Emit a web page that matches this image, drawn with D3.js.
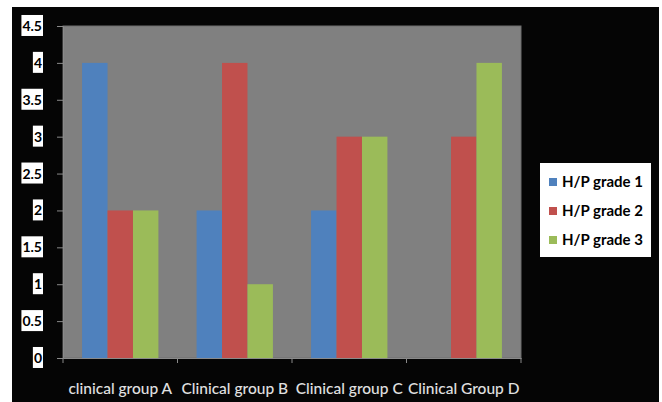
<!DOCTYPE html>
<html><head><meta charset="utf-8">
<script src="https://cdn.jsdelivr.net/npm/d3@7"></script>
<style>
html,body{margin:0;padding:0;background:#fff;}
svg{display:block;}
</style></head>
<body>
<svg id="chart" width="662" height="402"></svg>
<script>
const categories = ["clinical group A", "Clinical group B", "Clinical group C", "Clinical Group D"];
const seriesNames = ["H/P grade 1", "H/P grade 2", "H/P grade 3"];
const grade1 = [4, 2, 2, 0];
const grade2 = [2, 4, 3, 3];
const grade3 = [2, 1, 3, 4];
const yTicks = [0, 0.5, 1, 1.5, 2, 2.5, 3, 3.5, 4, 4.5];
const yTickLabels = ["0", "0.5", "1", "1.5", "2", "2.5", "3", "3.5", "4", "4.5"];
const colors = ["#4f81bd", "#c0504d", "#9bbb59"];

const seriesValues = [grade1, grade2, grade3];
const svg = d3.select("#chart");

// black chart area
svg.append("rect").attr("x", 12).attr("y", 7).attr("width", 647).attr("height", 395).attr("fill", "#050505");

const plot = {left: 63, right: 521, top: 26, bottom: 358};

const x = d3.scaleBand().domain(categories).range([plot.left, plot.right]).paddingInner(0).paddingOuter(0);
const xs = d3.scaleBand().domain(seriesNames).range([0, x.bandwidth()]).paddingInner(0).paddingOuter(0.75);
const y = d3.scaleLinear().domain([0, 4.5]).range([plot.bottom, plot.top]);

svg.append("rect").attr("x", plot.left).attr("y", plot.top)
  .attr("width", plot.right - plot.left).attr("height", plot.bottom - plot.top)
  .attr("fill", "#808080").attr("stroke", "#6e6e6e").attr("stroke-width", 1);

// bars
const rows = categories.map((c, i) => ({cat: c, vals: seriesNames.map((s, j) => ({s, v: seriesValues[j][i], j}))}));
const g = svg.append("g").selectAll("g").data(rows).join("g")
  .attr("transform", d => `translate(${x(d.cat)},0)`);
g.selectAll("rect").data(d => d.vals).join("rect")
  .attr("x", d => xs(d.s)).attr("width", xs.bandwidth())
  .attr("y", d => y(d.v)).attr("height", d => y(0) - y(d.v))
  .attr("fill", d => colors[d.j]);

// y axis
const yAxis = svg.append("g").attr("transform", `translate(${plot.left},0)`)
  .call(d3.axisLeft(y).tickValues(yTicks).tickFormat((d, i) => yTickLabels[i]).tickSize(6).tickPadding(15));
yAxis.select(".domain").attr("stroke", "#8a8a8a");
yAxis.selectAll(".tick line").attr("stroke", "#8a8a8a");
yAxis.selectAll(".tick text").attr("fill", "#000").attr("font-family", "Lato, 'Liberation Sans', sans-serif")
  .attr("font-weight", "bold").attr("font-size", 14);
yAxis.selectAll(".tick").each(function() {
  const t = d3.select(this).select("text");
  const b = t.node().getBBox();
  d3.select(this).insert("rect", "text")
    .attr("x", b.x - 1).attr("y", b.y - 2).attr("width", b.width + 2).attr("height", b.height + 4)
    .attr("fill", "#fff");
});

// x axis
const xAxis = svg.append("g").attr("transform", `translate(0,${plot.bottom})`)
  .call(d3.axisBottom(x).tickSize(0).tickPadding(25));
xAxis.select(".domain").attr("stroke", "#8a8a8a");
xAxis.selectAll(".tick text").attr("fill", "#e0e0e0").attr("font-family", "Lato, 'Liberation Sans', sans-serif")
  .attr("font-size", 15.5).attr("font-weight", 500);
const bounds = categories.map(c => x(c)).concat([x.range()[1]]);
xAxis.selectAll("line.bt").data(bounds).join("line").attr("class", "bt")
  .attr("x1", d => d).attr("x2", d => d).attr("y1", 0).attr("y2", 5).attr("stroke", "#8a8a8a");

// legend
const lg = svg.append("g");
lg.append("rect").attr("x", 540).attr("y", 163).attr("width", 111).attr("height", 94).attr("fill", "#fff");
const ly = d3.scalePoint().domain(seriesNames).range([182, 240]);
const li = lg.selectAll("g.li").data(seriesNames).join("g").attr("class", "li")
  .attr("transform", d => `translate(549,${ly(d)})`);
li.append("rect").attr("x", 0).attr("y", -4).attr("width", 8).attr("height", 8)
  .attr("fill", (d, i) => colors[i]);
li.append("text").attr("x", 13).attr("y", 5).text(d => d)
  .attr("font-family", "Lato, 'Liberation Sans', sans-serif").attr("font-weight", "bold")
  .attr("font-size", 15).attr("fill", "#000");
</script>
</body></html>
